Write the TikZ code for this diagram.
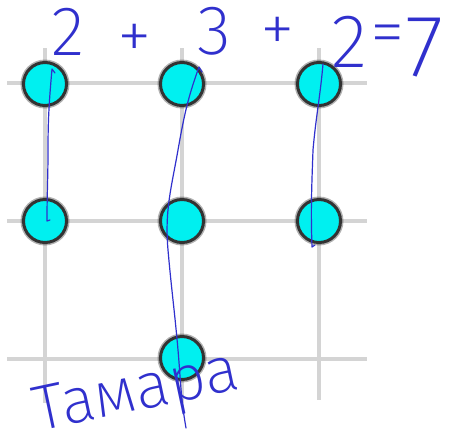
\documentclass[tikz,border=0pt]{standalone}
\usepackage{fontspec}
\newfontfamily\hand{Fira Sans ExtraLight}
\definecolor{ink}{RGB}{48,48,205}
\definecolor{dotfill}{RGB}{0,240,240}
\definecolor{gridgray}{RGB}{212,212,212}
\begin{document}
\begin{tikzpicture}[x=1pt,y=-1pt,
  gridline/.style={draw=gridgray, line width=4pt},
  halo/.style={fill=black, opacity=0.3},
  dot/.style={circle, minimum size=43pt, inner sep=0pt, fill=dotfill, draw=black!80, line width=3pt},
  handtext/.style={text=ink, inner sep=0pt, font=\hand\fontsize{70}{72}\selectfont},
  pen/.style={draw=ink, line width=1.2pt, line cap=round, line join=round}]
\useasboundingbox (0,0) rectangle (457,437);
\fill[white] (0,0) rectangle (457,437);
% grid
\draw[gridline] (7,83) -- (367,83);
\draw[gridline] (7,221) -- (367,221);
\draw[gridline] (7,359) -- (367,359);
\draw[gridline] (45,48) -- (45,403);
\draw[gridline] (182,48) -- (182,403);
\draw[gridline] (319,48) -- (319,400);
% halos
\foreach \p in {(45,84),(45,221),(182,84),(182,221),(182,358),(319,84),(319,221)}
  \fill[halo] \p circle (24.5);
% dots
\node[dot] (a1) at (45,84) {};
\node[dot] (a2) at (45,221) {};
\node[dot] (b1) at (182,84) {};
\node[dot] (b2) at (182,221) {};
\node[dot] (b3) at (182,358) {};
\node[dot] (c1) at (319,84) {};
\node[dot] (c2) at (319,221) {};
% pen strokes
\draw[pen] (55,73) -- (52,69) to[out=-95,in=90] (48,150) to[out=-90,in=90] (47,221) -- (50,220);
\draw[pen] (202,72) -- (199,67) to[out=-110,in=80] (178,150) to[out=-100,in=95] (168,250) to[out=-85,in=95] (178,350) to[out=-85,in=100] (186,428);
\draw[pen] (323,64) to[out=-95,in=85] (313,150) to[out=-92,in=92] (312,247) -- (315,245);
% handwritten text
\node[handtext] (t1) at (68,32) {2};
\node[handtext] (t2) at (135,42) {+};
\node[handtext] (t3) at (214,31) {3};
\node[handtext] (t4) at (278,35) {+};
\node[handtext, font=\hand\fontsize{76}{78}\selectfont] (t5) at (349,42) {2};
\node[handtext] (t6) at (388,40) {=};
\node[handtext, font=\hand\fontsize{88}{90}\selectfont] (t7) at (425,48) {7};
\node[handtext, font=\hand\fontsize{64}{66}\selectfont, rotate=12] (name) at (137,395) {Тамара};
\end{tikzpicture}
\end{document}
